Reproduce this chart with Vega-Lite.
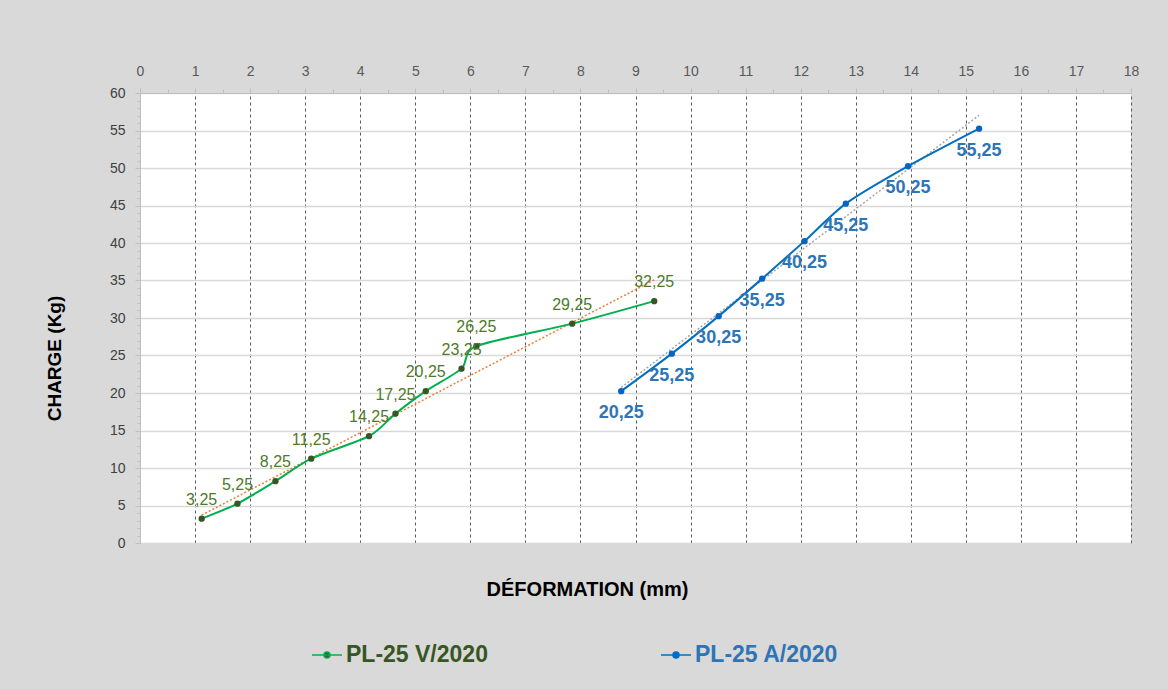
{
  "$schema": "https://vega.github.io/schema/vega-lite/v6.json",
  "autosize": {"type": "none"},
  "width": 991,
  "height": 450,
  "padding": {"left": 140, "top": 93, "right": 37, "bottom": 146},
  "background": "#d9d9d9",
  "config": {
    "view": {"fill": "white", "stroke": null},
    "locale": {"number": {"decimal": ",", "thousands": " ", "grouping": [3], "currency": ["", " €"]}},
    "font": "Liberation Sans"
  },
  "data": {
    "values": [
      {"series": "PL-25 V/2020", "def": 1.12, "charge": 3.25},
      {"series": "PL-25 V/2020", "def": 1.77, "charge": 5.25},
      {"series": "PL-25 V/2020", "def": 2.46, "charge": 8.25},
      {"series": "PL-25 V/2020", "def": 3.11, "charge": 11.25},
      {"series": "PL-25 V/2020", "def": 4.16, "charge": 14.25},
      {"series": "PL-25 V/2020", "def": 4.64, "charge": 17.25},
      {"series": "PL-25 V/2020", "def": 5.19, "charge": 20.25},
      {"series": "PL-25 V/2020", "def": 5.84, "charge": 23.25},
      {"series": "PL-25 V/2020", "def": 6.11, "charge": 26.25},
      {"series": "PL-25 V/2020", "def": 7.85, "charge": 29.25},
      {"series": "PL-25 V/2020", "def": 9.34, "charge": 32.25},
      {"series": "PL-25 A/2020", "def": 8.74, "charge": 20.25},
      {"series": "PL-25 A/2020", "def": 9.66, "charge": 25.25},
      {"series": "PL-25 A/2020", "def": 10.51, "charge": 30.25},
      {"series": "PL-25 A/2020", "def": 11.30, "charge": 35.25},
      {"series": "PL-25 A/2020", "def": 12.07, "charge": 40.25},
      {"series": "PL-25 A/2020", "def": 12.82, "charge": 45.25},
      {"series": "PL-25 A/2020", "def": 13.95, "charge": 50.25},
      {"series": "PL-25 A/2020", "def": 15.24, "charge": 55.25}
    ]
  },
  "resolve": {"axis": {"x": "independent", "y": "independent"}},
  "layer": [
    {
      "mark": {"type": "point", "opacity": 0},
      "encoding": {
        "x": {"field": "def", "type": "quantitative", "scale": {"domain": [0, 18], "nice": false},
          "axis": {"orient": "top", "values": [0,1,2,3,4,5,6,7,8,9,10,11,12,13,14,15,16,17,18], "title": null,
            "grid": true, "gridColor": "#595959", "gridDash": [3, 3], "gridWidth": 1,
            "domain": true, "domainColor": "#bfbfbf", "tickColor": "#bfbfbf", "tickSize": 5,
            "labelColor": "#595959", "labelFontSize": 14, "labelPadding": 10, "labelFlush": false}},
        "y": {"field": "charge", "type": "quantitative", "scale": {"domain": [0, 60], "nice": false},
          "axis": {"orient": "left", "values": [0,5,10,15,20,25,30,35,40,45,50,55,60],
            "grid": true, "gridColor": "#d9d9d9", "gridWidth": 1.5,
            "domain": true, "domainColor": "#bfbfbf", "tickColor": "#bfbfbf", "tickSize": 5,
            "labelColor": "#404040", "labelFontSize": 14, "labelPadding": 10, "labelFlush": false,
            "title": "CHARGE (Kg)", "titleFontSize": 19, "titleFontWeight": "bold", "titleColor": "#000000",
            "titleX": -86, "titleY": 265, "titleAlign": "center", "titleBaseline": "middle", "titleAngle": -90}}
      }
    },
    {
      "mark": {"type": "point", "opacity": 0},
      "encoding": {
        "x": {"field": "def", "type": "quantitative",
          "axis": {"orient": "top", "values": [0.5,1.5,2.5,3.5,4.5,5.5,6.5,7.5,8.5,9.5,10.5,11.5,12.5,13.5,14.5,15.5,16.5,17.5],
            "labels": false, "grid": false, "domain": false, "tickColor": "#bfbfbf", "tickSize": 4, "title": null}},
        "y": {"field": "charge", "type": "quantitative",
          "axis": {"orient": "left", "values": [1,2,3,4,6,7,8,9,11,12,13,14,16,17,18,19,21,22,23,24,26,27,28,29,31,32,33,34,36,37,38,39,41,42,43,44,46,47,48,49,51,52,53,54,56,57,58,59],
            "labels": false, "grid": false, "domain": false, "tickColor": "#bfbfbf", "tickSize": 3, "title": null}}
      }
    },
    {
      "mark": {"type": "point", "opacity": 0},
      "encoding": {
        "x": {"field": "def", "type": "quantitative",
          "axis": {"orient": "bottom", "labels": false, "ticks": false, "domain": false, "grid": false,
            "title": "DÉFORMATION (mm)", "titleFontSize": 20, "titleFontWeight": "bold", "titleColor": "#000000",
            "titleX": 447, "titleY": 46, "titleAlign": "center", "titleBaseline": "middle"}},
        "y": {"field": "charge", "type": "quantitative", "axis": null}
      }
    },
    {
      "transform": [
        {"filter": "datum.series === 'PL-25 V/2020'"},
        {"regression": "charge", "on": "def", "method": "linear"}
      ],
      "mark": {"type": "line", "color": "#ed7d31", "strokeDash": [2, 2], "strokeWidth": 1.5},
      "encoding": {
        "x": {"field": "def", "type": "quantitative", "axis": null},
        "y": {"field": "charge", "type": "quantitative", "axis": null}
      }
    },
    {
      "transform": [
        {"filter": "datum.series === 'PL-25 A/2020'"},
        {"regression": "charge", "on": "def", "method": "linear"}
      ],
      "mark": {"type": "line", "color": "#a6a6a6", "strokeDash": [2, 2], "strokeWidth": 1.5},
      "encoding": {
        "x": {"field": "def", "type": "quantitative", "axis": null},
        "y": {"field": "charge", "type": "quantitative", "axis": null}
      }
    },
    {
      "mark": {"type": "line", "interpolate": "cardinal", "tension": 0.25, "strokeWidth": 2},
      "encoding": {
        "x": {"field": "def", "type": "quantitative", "axis": null},
        "y": {"field": "charge", "type": "quantitative", "axis": null},
        "color": {"field": "series", "type": "nominal",
          "scale": {"domain": ["PL-25 V/2020", "PL-25 A/2020"], "range": ["#00b050", "#0070c0"]},
          "legend": {"orient": "none", "legendX": 171, "legendY": 546, "direction": "horizontal", "title": null,
            "labelFont": "Liberation Sans", "labelFontSize": 23, "labelFontWeight": "bold", "labelLimit": 400,
            "symbolType": "M-1,0H1M0.2,0A0.2,0.2,0,1,1,-0.2,0A0.2,0.2,0,1,1,0.2,0Z",
            "symbolSize": 900, "symbolStrokeWidth": 1.5, "columnPadding": 170, "labelOffset": 3,
            "encode": {
              "labels": {"update": {"fill": {"signal": "datum.label === 'PL-25 V/2020' ? '#375623' : '#2e75b6'"}}},
              "symbols": {"update": {"fill": {"signal": "datum.label === 'PL-25 V/2020' ? '#375623' : '#0563c1'"}, "fillOpacity": {"value": 1}}}
            }}}
      }
    },
    {
      "mark": {"type": "point", "filled": true, "size": 40, "opacity": 1},
      "encoding": {
        "x": {"field": "def", "type": "quantitative", "axis": null},
        "y": {"field": "charge", "type": "quantitative", "axis": null},
        "fill": {"field": "series", "type": "nominal",
          "scale": {"domain": ["PL-25 V/2020", "PL-25 A/2020"], "range": ["#375623", "#0563c1"]},
          "legend": null}
      }
    },
    {
      "transform": [{"filter": "datum.series === 'PL-25 V/2020'"}],
      "mark": {"type": "text", "dy": -19, "fontSize": 16, "font": "Liberation Sans", "color": "#4e7a2a"},
      "encoding": {
        "x": {"field": "def", "type": "quantitative", "axis": null},
        "y": {"field": "charge", "type": "quantitative", "axis": null},
        "text": {"field": "charge", "type": "quantitative", "format": ".2f"}
      }
    },
    {
      "transform": [{"filter": "datum.series === 'PL-25 A/2020'"}],
      "mark": {"type": "text", "dy": 22, "fontSize": 18, "fontWeight": "bold", "font": "Liberation Sans", "color": "#2e75b6"},
      "encoding": {
        "x": {"field": "def", "type": "quantitative", "axis": null},
        "y": {"field": "charge", "type": "quantitative", "axis": null},
        "text": {"field": "charge", "type": "quantitative", "format": ".2f"}
      }
    }
  ]
}
